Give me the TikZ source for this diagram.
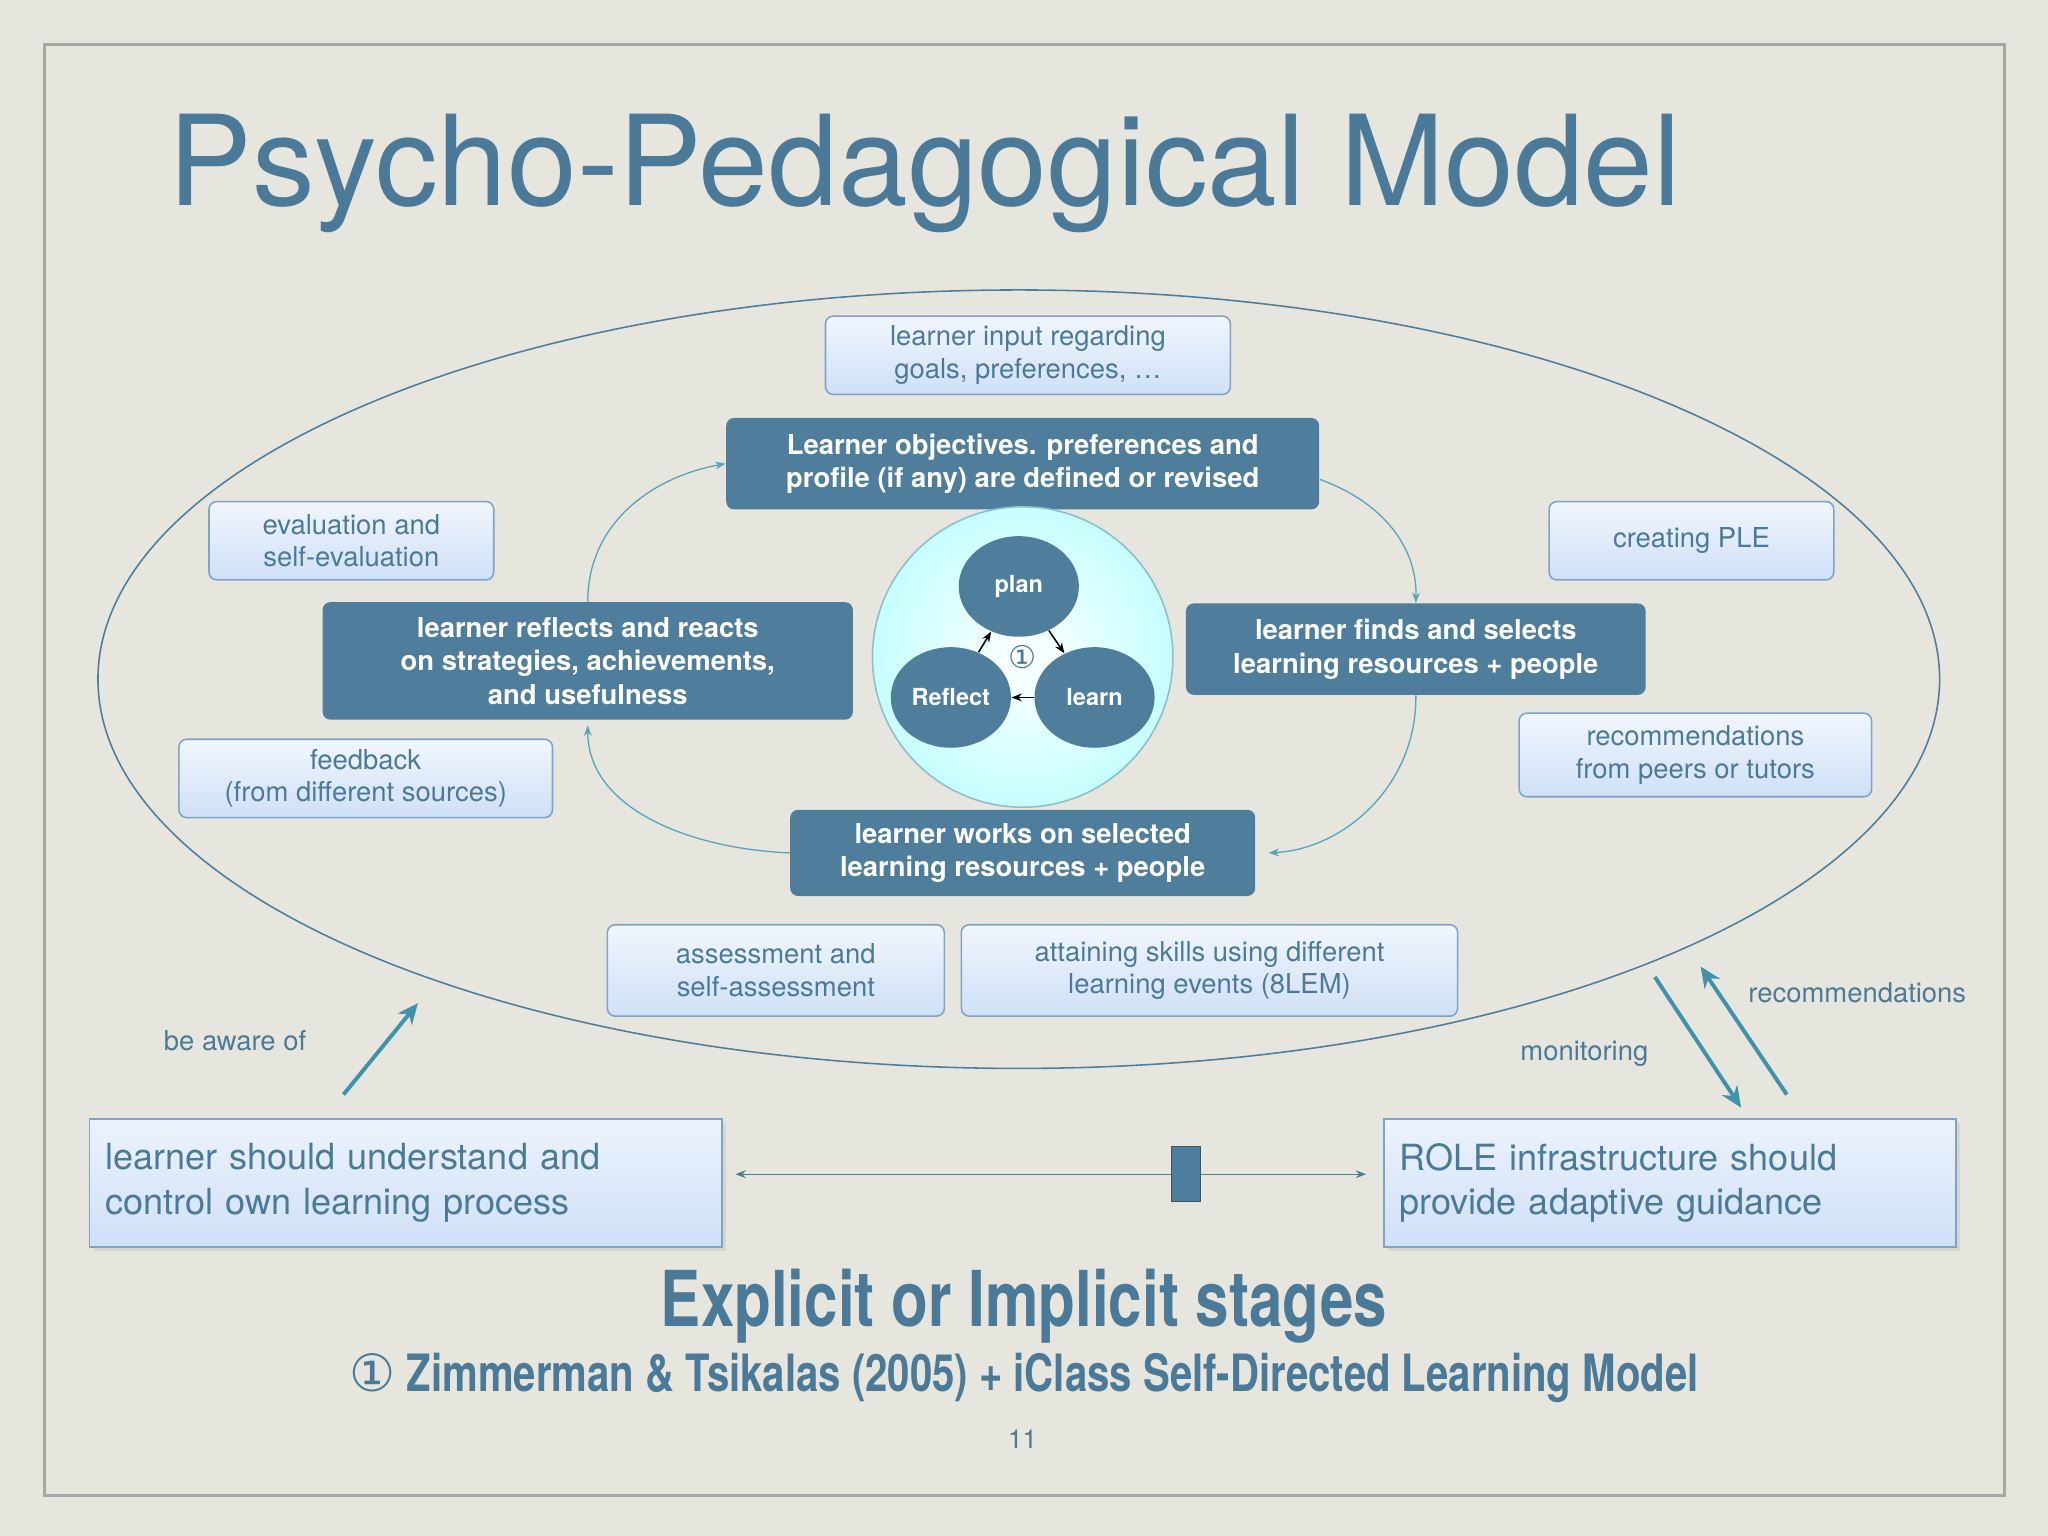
\documentclass[tikz,border=0pt]{standalone}
\usepackage{fontspec}
\setmainfont{TeX Gyre Heros}
\newfontfamily\condb[FakeStretch=0.78]{TeX Gyre Heros}
\newfontfamily\symf{DejaVu Sans}
\usetikzlibrary{arrows.meta,shadows,shapes.geometric}
\definecolor{bg}{HTML}{E6E6DE}
\definecolor{dk}{HTML}{4E7E9B}
\definecolor{tx}{HTML}{4B7A98}
\definecolor{lb}{HTML}{7FA2CC}
\definecolor{lf}{HTML}{CFE0F7}
\definecolor{cy}{HTML}{5AA3B8}
\tikzset{
 lbox/.style={draw=lb,rounded corners=3pt,top color=white!70!lf,bottom color=lf,text=tx,align=center,font=\fontsize{10.5}{12.5}\selectfont,inner sep=0pt,line width=0.6pt},
 dbox/.style={fill=dk,rounded corners=3pt,text=white,align=center,font=\bfseries\fontsize{10.5}{12.8}\selectfont,inner sep=0pt},
 bbox/.style={draw=lb,top color=white!60!lf,bottom color=lf,text=tx,align=left,font=\fontsize{13.8}{17}\selectfont,inner sep=6pt,line width=0.6pt,drop shadow={opacity=0.15,shadow xshift=1.5pt,shadow yshift=-1.5pt}},
 cnode/.style={ellipse,fill=dk,minimum width=46pt,minimum height=38.5pt,inner sep=0pt,text=white,font=\bfseries\fontsize{9}{10}\selectfont},
 cyc/.style={draw=cy,line width=0.5pt,-{Stealth[length=4pt,width=3pt]}},
 bigar/.style={draw=dk!85!cyan,line width=1.5pt,-{Stealth[length=8pt,width=7pt]}},
 lbl/.style={text=tx,font=\fontsize{10.5}{12.5}\selectfont}
}
\begin{document}
\begin{tikzpicture}[x=0.5pt,y=-0.5pt]
\fill[bg] (0,0) rectangle (1568,1176);
\useasboundingbox (0,0) rectangle (1568,1176);
\draw[gray!70,line width=1.2pt] (34,34) rectangle (1535,1145);
\node[text=tx,anchor=west,font=\fontsize{48}{56}\selectfont] (title) at (122,133) {Psycho-Pedagogical Model};
\draw[dk,line width=0.6pt] (780,520) ellipse [x radius=705, y radius=298];
\node[lbox,minimum width=155pt,minimum height=30pt] (inp) at (787,272) {learner input regarding\\goals, preferences, \dots};
\node[dbox,minimum width=227pt,minimum height=35pt] (obj) at (783,355) {Learner objectives. preferences and\\profile (if any) are defined or revised};
\node[lbox,minimum width=109pt,minimum height=30pt] (ev) at (269,414) {evaluation and\\self-evaluation};
\node[lbox,minimum width=109pt,minimum height=30pt] (ple) at (1295,414) {creating PLE};
\node[dbox,minimum width=203pt,minimum height=45pt] (refl) at (450,506) {learner reflects and reacts\\on strategies, achievements,\\and usefulness};
\node[dbox,minimum width=176pt,minimum height=35pt] (find) at (1084,497) {learner finds and selects\\learning resources + people};
\node[lbox,minimum width=143pt,minimum height=30pt] (fb) at (280,596) {feedback\\(from different sources)};
\node[lbox,minimum width=135pt,minimum height=32pt] (rec) at (1298,578) {recommendations\\from peers or tutors};
\node[dbox,minimum width=178pt,minimum height=33pt] (work) at (783,653) {learner works on selected\\learning resources + people};
\node[lbox,minimum width=129pt,minimum height=35pt] (as) at (594,743) {assessment and\\self-assessment};
\node[lbox,minimum width=190pt,minimum height=35pt] (att) at (926,743) {attaining skills using different\\learning events (8LEM)};
% circle
\node[circle,draw=cy!70,line width=0.6pt,inner color=white,outer color=cyan!22,minimum size=115pt] (cc) at (783,503) {};
\node[cnode] (plan) at (780,449) {plan};
\node[cnode] (rf) at (728,534) {Reflect};
\node[cnode] (le) at (838,534) {learn};
\node[text=tx,font=\symf\fontsize{12}{12}\selectfont] (one) at (783,503) {①};
\draw[-{Stealth[length=4pt]},line width=0.6pt] (rf) -- (plan);
\draw[-{Stealth[length=4pt]},line width=0.6pt] (plan) -- (le);
\draw[-{Stealth[length=4pt]},line width=0.6pt] (le) -- (rf);
% cycle
\draw[cyc] (refl.north) .. controls (450,400) and (500,365) .. (obj.west);
\draw[cyc] ([yshift=-6pt]obj.east) .. controls (1060,385) and (1085,420) .. (find.north);
\draw[cyc] (find.south) .. controls (1085,600) and (1030,650) .. ([xshift=5pt]work.east);
\draw[cyc] (work.west) .. controls (530,650) and (450,620) .. ([yshift=-2pt]refl.south);
% bottom
\node[bbox,minimum width=242pt,minimum height=49pt,anchor=north west,text width=230pt] (lrn) at (68,856) {learner should understand and\\control own learning process\\[16pt]};
\node[bbox,minimum width=219pt,minimum height=49pt,anchor=north west,text width=207pt] (role) at (1059,856) {ROLE infrastructure should\\provide adaptive guidance\\[16pt]};
\coordinate (lm) at (563,899); \coordinate (rm) at (1046,899);
\draw[cy!80!black,line width=0.5pt,{Stealth[length=4pt]}-{Stealth[length=4pt]}] (lm) -- (rm);
\node[fill=dk,draw=dk!70!black,minimum width=11pt,minimum height=21pt,inner sep=0pt] (sq) at (908,899) {};
\node[lbl] (aw) at (180,797) {be aware of};
\coordinate (a1) at (263,838); \coordinate (a2) at (320,768);
\draw[bigar] (a1) -- (a2);
\node[lbl] (mon) at (1213,807) {monitoring};
\node[lbl] (rc) at (1422,760) {recommendations};
\coordinate (m1) at (1267,748); \coordinate (m2) at (1333,848);
\coordinate (r1) at (1368,838); \coordinate (r2) at (1302,740);
\draw[bigar] (m1) -- (m2);
\draw[bigar] (r1) -- (r2);
\node[text=tx,font=\condb\bfseries\fontsize{29.5}{34}\selectfont] (ex) at (784,1000) {Explicit or Implicit stages};
\node[text=tx,font=\condb\bfseries\fontsize{19.7}{24}\selectfont] (cit) at (784,1055) {{\symf\mdseries ①} Zimmerman \& Tsikalas (2005) + iClass Self-Directed Learning Model};
\node[text=tx,font=\fontsize{10}{12}\selectfont] (pg) at (783,1102) {11};
\end{tikzpicture}
\end{document}
